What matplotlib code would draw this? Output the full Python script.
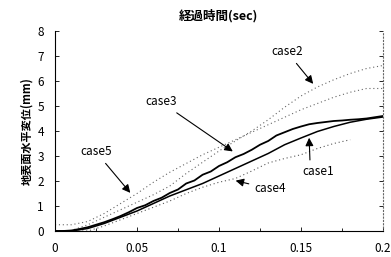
import matplotlib
matplotlib.use('Agg')
import matplotlib.pyplot as plt
from matplotlib.ticker import MultipleLocator

plt.rcParams['font.family'] = ['Noto Sans CJK JP', 'DejaVu Sans']

# time (sec)
t = [0.0, 0.005, 0.01, 0.015, 0.02, 0.025, 0.03, 0.035, 0.04, 0.045,
     0.05, 0.055, 0.06, 0.065, 0.07, 0.075, 0.08, 0.085, 0.09, 0.095,
     0.1, 0.105, 0.11, 0.115, 0.12, 0.125, 0.13, 0.135, 0.14, 0.145,
     0.15, 0.155, 0.16, 0.165, 0.17, 0.175, 0.18, 0.185, 0.19, 0.195, 0.2]

case3 = [0.0, 0.0, 0.02, 0.08, 0.15, 0.25, 0.35, 0.47, 0.6, 0.75,
         0.92, 1.03, 1.2, 1.33, 1.52, 1.66, 1.9, 2.02, 2.25, 2.38,
         2.6, 2.75, 2.95, 3.08, 3.25, 3.45, 3.6, 3.82, 3.95, 4.08,
         4.18, 4.27, 4.32, 4.36, 4.4, 4.42, 4.45, 4.47, 4.5, 4.55, 4.6]

t10 = [0.0, 0.01, 0.02, 0.03, 0.04, 0.05, 0.06, 0.07, 0.08, 0.09, 0.1,
       0.11, 0.12, 0.13, 0.14, 0.15, 0.16, 0.17, 0.18, 0.19, 0.2]
case1 = [0.0, 0.0, 0.1, 0.3, 0.55, 0.8, 1.1, 1.4, 1.65, 1.9, 2.2,
         2.5, 2.8, 3.1, 3.45, 3.72, 3.98, 4.18, 4.35, 4.47, 4.56]
case2 = [0.0, 0.02, 0.25, 0.55, 0.85, 1.15, 1.45, 1.8, 2.3, 2.75, 3.2,
         3.6, 4.0, 4.45, 4.95, 5.4, 5.76, 6.05, 6.3, 6.5, 6.62]
case5 = [0.25, 0.25, 0.38, 0.7, 1.1, 1.5, 1.95, 2.35, 2.7, 3.05, 3.35,
         3.65, 3.95, 4.25, 4.55, 4.85, 5.1, 5.35, 5.55, 5.7, 5.7]

t4 = [0.0, 0.01, 0.02, 0.03, 0.04, 0.05, 0.06, 0.07, 0.08, 0.09, 0.1,
      0.11, 0.12, 0.13, 0.14, 0.15, 0.16, 0.17, 0.18]
case4 = [0.0, 0.0, 0.0, 0.2, 0.45, 0.7, 0.95, 1.2, 1.5, 1.75, 1.95,
         2.1, 2.4, 2.72, 2.9, 3.05, 3.3, 3.5, 3.65]

fig = plt.figure(figsize=(3.91, 2.57), dpi=100)
ax = fig.add_axes([0.1407, 0.1012, 0.8388, 0.7782])

dots = (0, (1, 2.5))
ax.plot(t10, case2, color='0.4', lw=0.8, linestyle=dots)
ax.plot(t10, case5, color='0.4', lw=0.8, linestyle=dots)
ax.plot(t4, case4, color='0.35', lw=0.8, linestyle=dots)
ax.plot(t10, case1, color='k', lw=1.1)
ax.plot(t, case3, color='k', lw=1.3)

ax.set_xlim(0, 0.2)
ax.set_ylim(0, 8)
ax.xaxis.set_minor_locator(MultipleLocator(0.025))
ax.yaxis.set_major_locator(MultipleLocator(1))
ax.set_xticks([0, 0.05, 0.1, 0.15, 0.2])
ax.set_xticklabels(['0', '0.05', '0.1', '0.15', '0.2'])
ax.tick_params(direction='in', right=True, length=3, width=0.6,
               labelsize=8.5)
ax.tick_params(axis='x', pad=8)
ax.tick_params(axis='y', pad=8)
ax.tick_params(which='minor', direction='in', length=2, width=0.6)

ax.spines['top'].set_visible(False)
ax.spines['right'].set_linestyle((0, (1, 2)))
ax.spines['right'].set_color('0.4')
ax.spines['left'].set_linewidth(0.8)
ax.spines['bottom'].set_linewidth(0.8)

ax.set_title('経過時間(sec)', fontsize=9, fontweight='bold', pad=8)
ax.set_ylabel('地表面水平変位(mm)', fontsize=8, fontweight='bold', labelpad=3)

arrow = dict(arrowstyle='-|>', color='k', lw=0.8, mutation_scale=12)
fs = 8.5
ax.annotate('case2', xy=(0.1585, 5.8), xytext=(0.1415, 7.16),
            ha='center', va='center', fontsize=fs, arrowprops=arrow)
ax.annotate('case3', xy=(0.1098, 3.12), xytext=(0.0646, 5.16),
            ha='center', va='center', fontsize=fs, arrowprops=arrow)
ax.annotate('case5', xy=(0.047, 1.44), xytext=(0.025, 3.16),
            ha='center', va='center', fontsize=fs, arrowprops=arrow)
ax.annotate('case1', xy=(0.1549, 3.84), xytext=(0.1604, 2.36),
            ha='center', va='center', fontsize=fs,
            arrowprops=dict(arrow, relpos=(0.25, 1.0)))
ax.annotate('case4', xy=(0.1085, 2.04), xytext=(0.1311, 1.68),
            ha='center', va='center', fontsize=fs, arrowprops=arrow)

fig.savefig('out.png', dpi=100)
